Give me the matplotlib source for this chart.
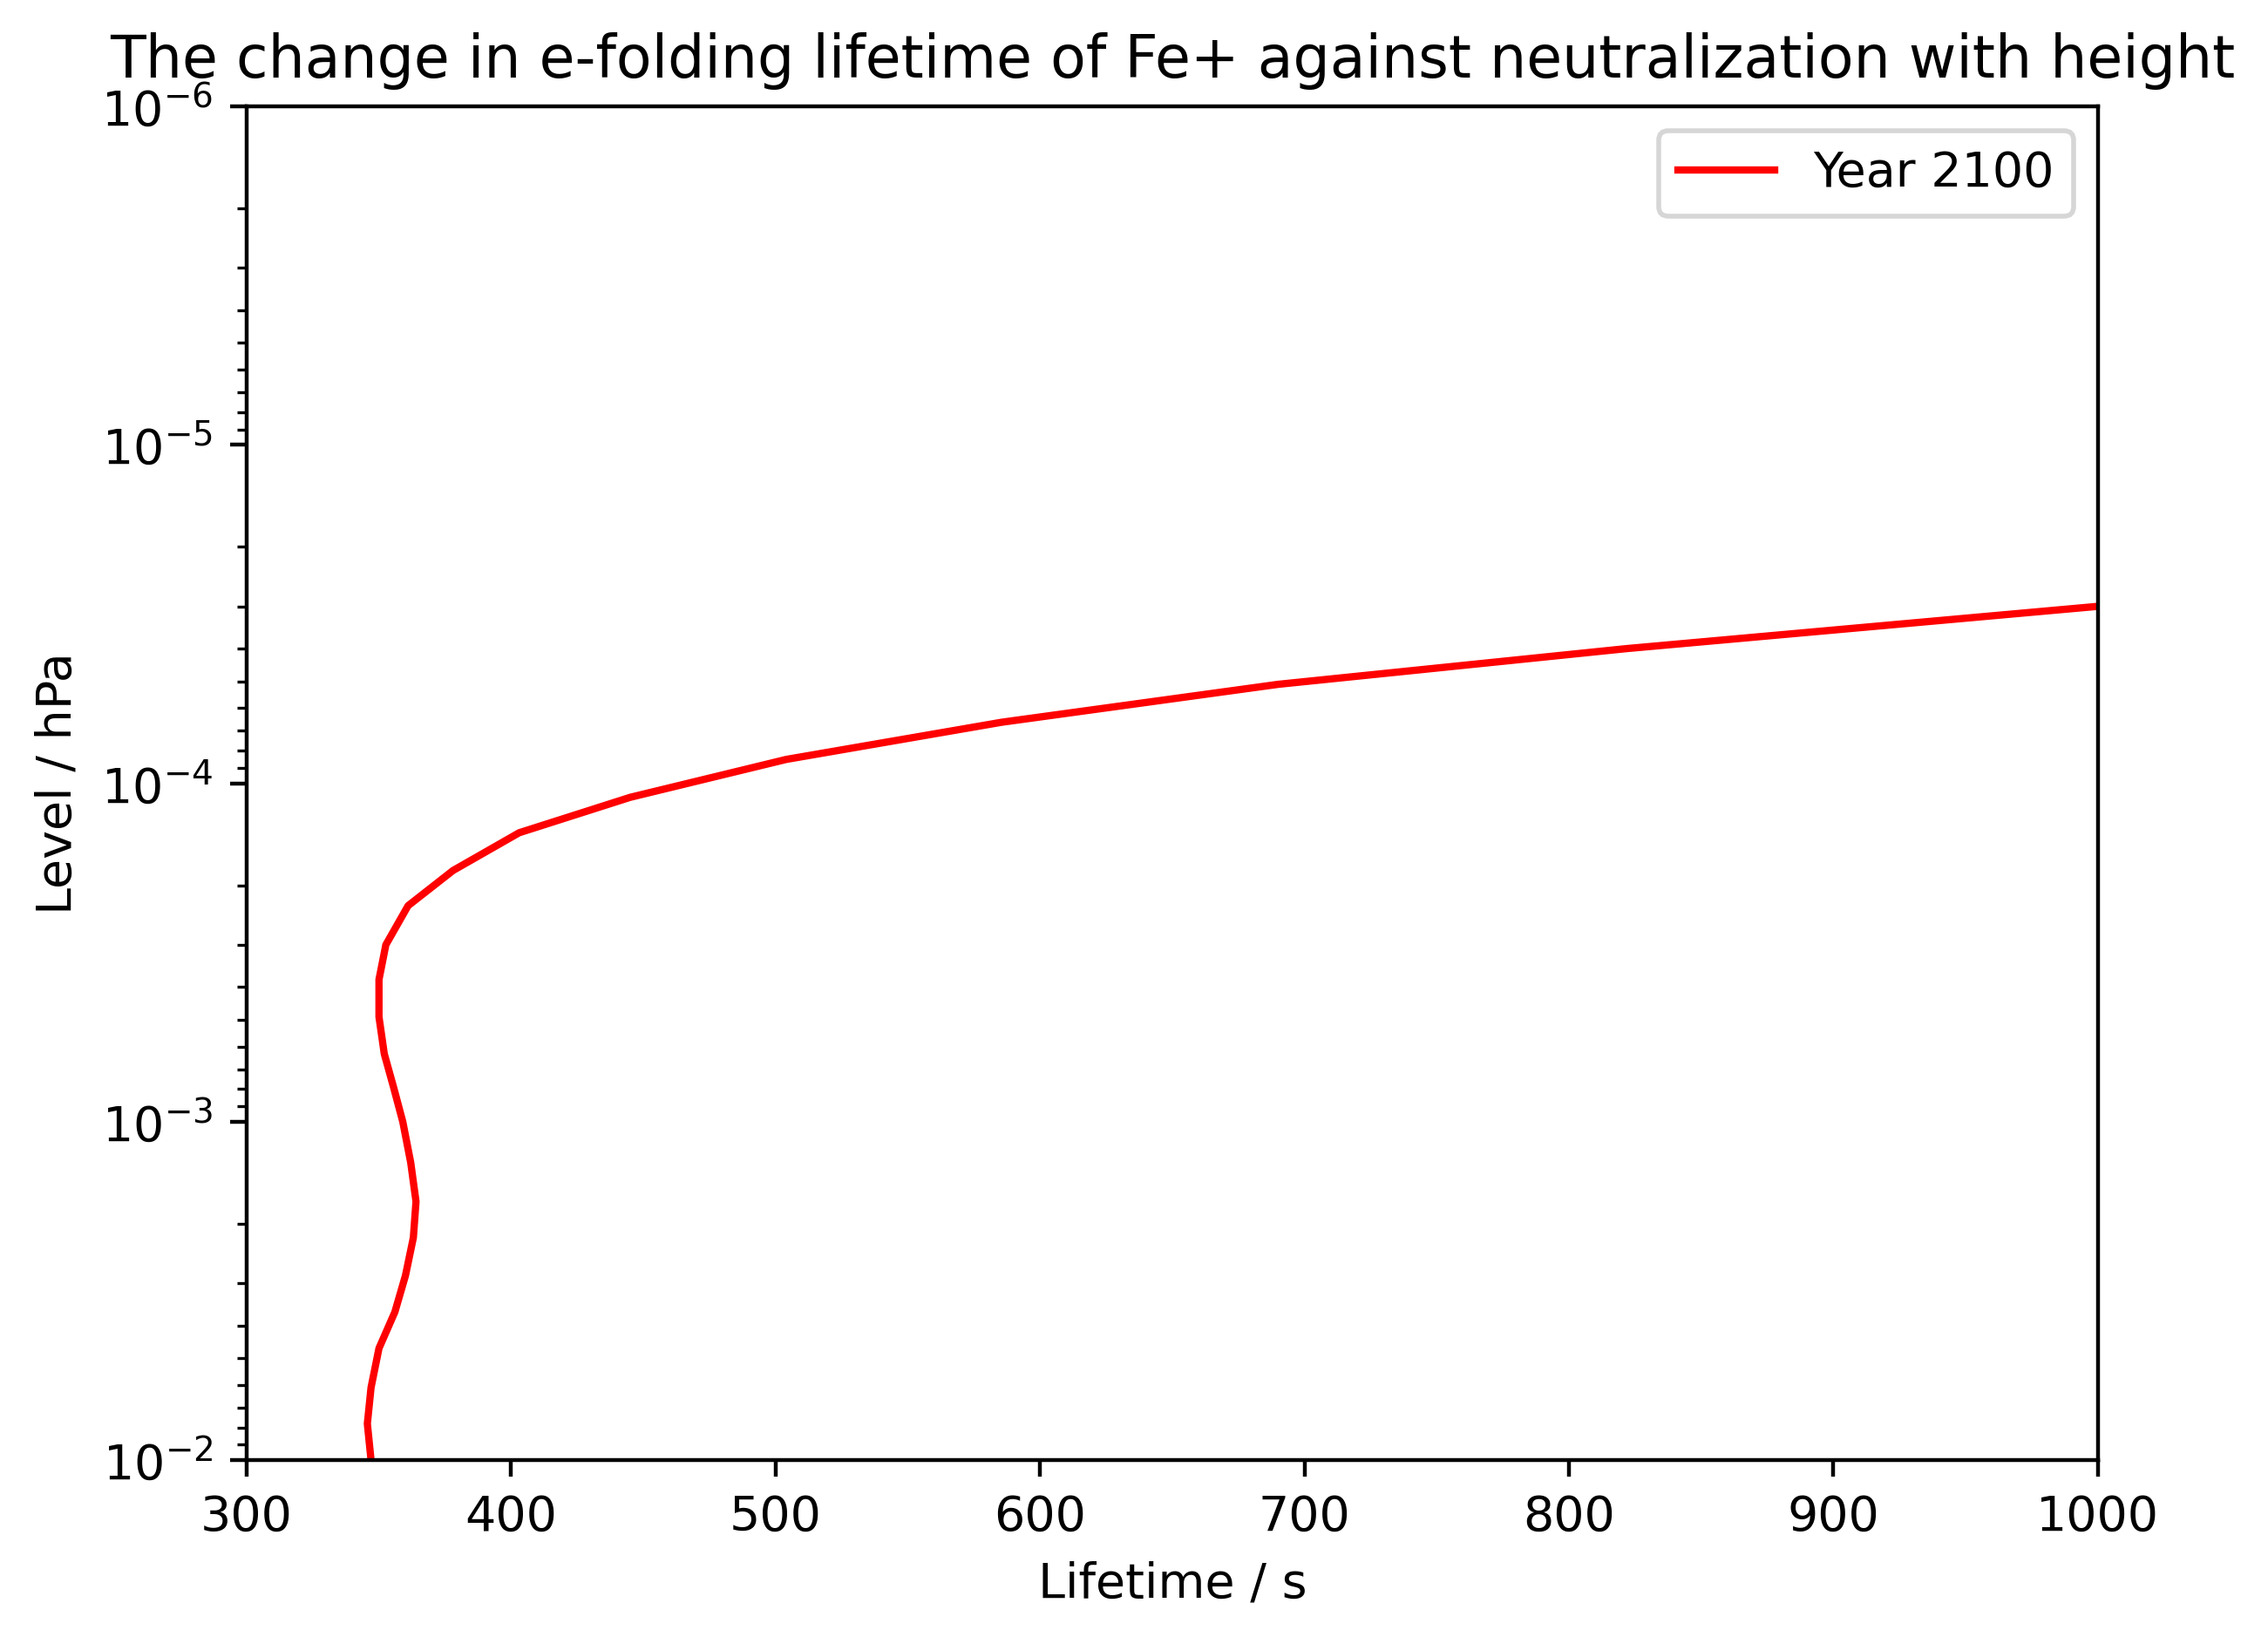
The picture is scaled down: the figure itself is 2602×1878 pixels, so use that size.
import matplotlib
matplotlib.use("Agg")
import matplotlib.pyplot as plt

# Values
lifetime = [347, 345.6, 347, 350, 356, 360, 363, 364, 362, 359, 355.5, 352, 350, 350,
            352.6, 361, 378, 403, 445, 504, 585.5, 690, 821.7, 1000, 1240]
level = [1.0e-2, 7.8e-3, 6.1e-3, 4.67e-3, 3.65e-3, 2.85e-3, 2.2e-3, 1.72e-3, 1.32e-3,
         1.0e-3, 7.9e-4, 6.3e-4, 4.9e-4, 3.8e-4, 3.0e-4, 2.3e-4, 1.81e-4, 1.4e-4,
         1.1e-4, 8.5e-5, 6.6e-5, 5.1e-5, 4.0e-5, 3.0e-5, 2.3e-5]

fig = plt.figure(figsize=(6.505, 4.695), dpi=400)
ax = fig.add_axes([0.1088, 0.108, 0.925 - 0.1088, 0.935 - 0.108])
ax.plot(lifetime, level, color="red", label="Year 2100")
ax.set_yscale("log")
ax.set_xlim(300, 1000)
ax.set_ylim(1e-2, 1e-6)
ax.set_xlabel("Lifetime / s")
ax.set_ylabel("Level / hPa")
ax.set_title("The change in e-folding lifetime of Fe+ against neutralization with height")
ax.legend(loc="upper right")
fig.savefig("out.png", dpi=400)
